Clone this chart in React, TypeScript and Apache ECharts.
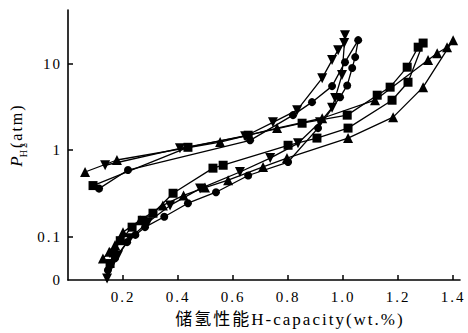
import React, { useEffect, useRef } from 'react';
import * as echarts from 'echarts';

// x: hydrogen capacity (wt.%), y: pressure P_H2 (atm); each list is one closed loop
const xTickValues = [0.2, 0.4, 0.6, 0.8, 1.0, 1.2, 1.4];
const yTickLabels = ['0', '0.1', '1', '10'];
const yTickPositions = [-1.5, -1, 0, 1]; // log10 of pressure; "0" marks the bottom of the axis
const yMajorTicks = [-1, 0, 1];

const triangleSeries = [
  [0.062, 0.56], [0.178, 0.77], [0.553, 1.24], [0.76, 1.8], [0.924, 2.34], [1.116, 3.78],
  [1.309, 11.0], [1.342, 13.2], [1.378, 15.5], [1.4, 18.7],
  [1.291, 5.35], [1.182, 2.41], [1.018, 1.38], [0.796, 0.81], [0.709, 0.64], [0.582, 0.45],
  [0.498, 0.37], [0.42, 0.3], [0.345, 0.23], [0.262, 0.155], [0.2, 0.113], [0.171, 0.08],
  [0.15, 0.067], [0.127, 0.056],
];
const squareSeries = [
  [0.091, 0.39], [0.436, 1.08], [0.655, 1.49], [0.851, 2.05], [1.015, 2.54], [1.124, 4.32],
  [1.171, 5.35], [1.233, 9.1], [1.273, 15.5], [1.291, 17.3],
  [1.236, 6.1], [1.178, 3.78], [1.018, 1.8], [0.905, 1.38], [0.8, 1.14], [0.564, 0.67],
  [0.527, 0.62], [0.382, 0.318], [0.309, 0.187], [0.27, 0.155], [0.233, 0.129],
  [0.19, 0.09], [0.165, 0.065], [0.153, 0.049],
];
const circleSeries = [
  [0.113, 0.36], [0.218, 0.59], [0.662, 1.3], [0.818, 2.54], [0.887, 3.59], [0.96, 5.5],
  [1.007, 10.4], [1.055, 18.7],
  [1.044, 11.9], [1.033, 8.9], [1.015, 5.6], [0.989, 4.1], [0.909, 1.8], [0.8, 0.73],
  [0.655, 0.51], [0.538, 0.327], [0.436, 0.244], [0.35, 0.17], [0.28, 0.129],
  [0.245, 0.105], [0.215, 0.0866], [0.171, 0.0564], [0.145, 0.041],
];
const downTriangleSeries = [
  [0.135, 0.67], [0.407, 1.05], [0.644, 1.45], [0.745, 2.1], [0.833, 2.9], [0.924, 6.8],
  [0.96, 11.0], [0.982, 14.3], [1.004, 17.3], [1.007, 21.3],
  [0.996, 7.4], [0.971, 4.0], [0.96, 3.1], [0.916, 2.1], [0.836, 1.2], [0.735, 0.81],
  [0.625, 0.56], [0.48, 0.36], [0.371, 0.23], [0.291, 0.147], [0.225, 0.096],
  [0.182, 0.061], [0.142, 0.033],
];

const FONT = '"Liberation Serif", "Times New Roman", "Noto Sans CJK SC", serif';

const toLog = (pts: number[][]) => pts.map(([x, p]) => [x, Math.log10(p)]);

export default function App() {
  const ref = useRef<HTMLDivElement>(null);
  useEffect(() => {
    if (!ref.current) return;
    const chart = echarts.init(ref.current, undefined, { renderer: 'svg' });
    const mk = (data: number[][], symbol: string, size: number, rotate = 0) => ({
      type: 'line',
      data: toLog(data),
      symbol,
      symbolSize: size,
      symbolRotate: rotate,
      showAllSymbol: true,
      clip: false,
      lineStyle: { color: '#000', width: 1.3 },
      itemStyle: { color: '#000', borderWidth: 0 },
      emphasis: { disabled: true },
      z: 3,
    });
    chart.setOption({
      animation: false,
      backgroundColor: '#fff',
      grid: { left: 68, right: 8, top: 10, bottom: 53, containLabel: false, outerBoundsMode: 'none' },
      xAxis: {
        type: 'value',
        min: 0,
        max: 1.425,
        name: '储氢性能H-capacity(wt.%)',
        nameLocation: 'middle',
        nameGap: 31,
        nameTextStyle: { color: '#000', fontSize: 17, fontFamily: FONT, padding: [0, 0, 0, 52] },
        axisLine: { show: true, onZero: false, lineStyle: { color: '#000', width: 1.6 } },
        axisTick: { show: true, inside: true, length: 5, customValues: xTickValues, lineStyle: { color: '#000', width: 1.5 } },
        axisLabel: {
          customValues: xTickValues,
          formatter: (v: number) => v.toFixed(1),
          color: '#000', fontSize: 15, fontFamily: FONT, margin: 9,
        },
        splitLine: { show: false },
      },
      yAxis: {
        type: 'value',
        min: -1.5,
        max: 1.62,
        name: '{p|P}{s|H2}{n|(atm)}',
        nameLocation: 'middle',
        nameGap: 40,
        nameRotate: 90,
        nameTextStyle: {
          color: '#000', fontFamily: FONT, padding: [0, 0, 0, 16],
          rich: {
            p: { fontSize: 17, fontStyle: 'italic', fontFamily: FONT, color: '#000', lineHeight: 24 },
            s: { fontSize: 10, fontFamily: FONT, color: '#000', verticalAlign: 'bottom', lineHeight: 11 },
            n: { fontSize: 16, fontFamily: FONT, color: '#000', lineHeight: 24 },
          },
        },
        axisLine: { show: true, onZero: false, lineStyle: { color: '#000', width: 1.6 } },
        axisTick: { show: true, inside: true, length: 5, customValues: yMajorTicks, lineStyle: { color: '#000', width: 1.5 } },
        axisLabel: {
          customValues: yTickPositions,
          formatter: (v: number) => {
            const i = yTickPositions.findIndex((t) => Math.abs(t - v) < 1e-6);
            return i >= 0 ? yTickLabels[i] : '';
          },
          color: '#000', fontSize: 15, fontFamily: FONT, margin: 6,
        },
        splitLine: { show: false },
      },
      series: [
        mk(triangleSeries, 'triangle', 10),
        mk(squareSeries, 'rect', 9),
        mk(circleSeries, 'circle', 8),
        mk(downTriangleSeries, 'triangle', 10, 180),
      ],
    });
    return () => chart.dispose();
  }, []);
  return (
    <>
      <style>{`#chart text{letter-spacing:2px}`}</style>
      <div id="chart" ref={ref} style={{ position: 'absolute', left: 0, top: 0, width: 468, height: 333 }} />
    </>
  );
}
